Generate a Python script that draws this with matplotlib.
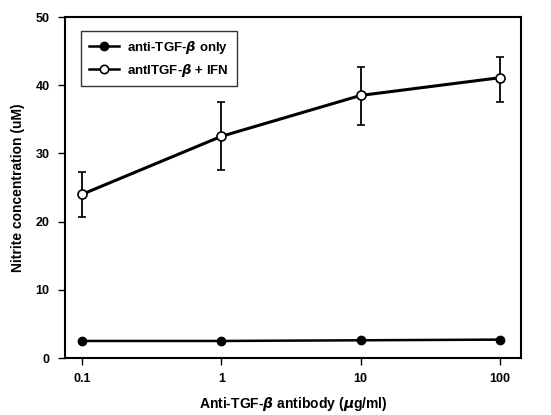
import matplotlib
matplotlib.use("Agg")
import matplotlib.pyplot as plt
from matplotlib.lines import Line2D

doses = [0.1, 1, 10, 100]
tick_labels = ["0.1", "1", "10", "100"]
only_vals = [2.5, 2.5, 2.6, 2.7]
ifn_vals = [24.0, 32.5, 38.5, 41.1]
ifn_err_lo = [3.3, 5.0, 4.3, 3.5]
ifn_err_hi = [3.3, 5.0, 4.1, 3.1]

plt.rcParams['font.family'] = ['Liberation Sans', 'DejaVu Sans']
plt.rcParams['font.weight'] = 'bold'

fig = plt.figure(figsize=(5.51, 4.15), dpi=100)
ax = fig.add_axes([0.118, 0.1373, 0.8276, 0.8217])

ax.plot(doses, only_vals, color='black', lw=1.8, marker='o', ms=6,
        mfc='black', mec='black')
ax.errorbar(doses, ifn_vals, yerr=[ifn_err_lo, ifn_err_hi], color='black', lw=2.2,
            marker='o', ms=6.5, mfc='white', mec='black', mew=1.2,
            elinewidth=1.3, capsize=3, capthick=1.3)

ax.set_xscale('log')
ax.set_xlim(0.0755, 142)
ax.set_ylim(0, 50)
ax.set_xticks(doses)
ax.set_xticklabels(tick_labels)
ax.minorticks_off()
ax.set_yticks([0, 10, 20, 30, 40, 50])
ax.tick_params(direction='out', length=5, width=1, labelsize=9, pad=6)
for s in ax.spines.values():
    s.set_linewidth(1.5)

ax.set_ylabel('Nitrite concentration (uM)', fontsize=10, fontweight='bold', labelpad=8)
ax.set_xlabel('Anti-TGF-$\\beta$ antibody ($\\mu$g/ml)', fontsize=10, fontweight='bold', labelpad=7)

handles = [
    Line2D([], [], color='black', lw=1.8, marker='o', ms=6, mfc='black', mec='black'),
    Line2D([], [], color='black', lw=1.8, marker='o', ms=6, mfc='white', mec='black', mew=1.2),
]
labels = ['anti-TGF-$\\beta$ only', 'antITGF-$\\beta$ + IFN']
leg = ax.legend(handles, labels, loc='upper left', bbox_to_anchor=(0.035, 0.96),
                borderaxespad=0, fontsize=9.5,
                frameon=True, fancybox=False, edgecolor='black', handlelength=2.3,
                borderpad=0.6, labelspacing=0.45, handletextpad=0.6)
leg.get_frame().set_linewidth(1.0)

fig.savefig('out.png', dpi=100)
